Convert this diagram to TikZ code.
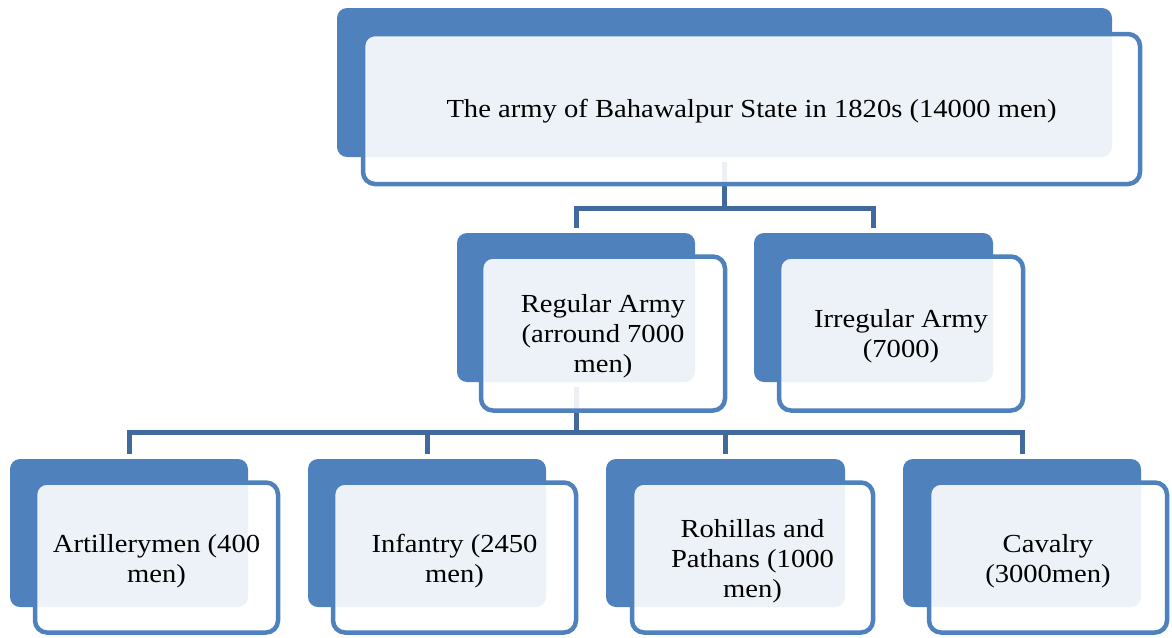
\documentclass[tikz,border=0pt]{standalone}
\usepackage{fontspec}
\setmainfont{Liberation Serif}[FakeStretch=1.1]
\pgfdeclarelayer{wires}
\pgfsetlayers{wires,main}
\definecolor{accent}{HTML}{4F81BD}
\definecolor{wire}{HTML}{41699C}
\tikzset{
  backbox/.style={fill=accent, draw=none, rounded corners=10pt, inner sep=0pt},
  frontbox/.style={draw=accent, line width=4.5pt, fill=white, fill opacity=0.9,
    rounded corners=12pt, inner sep=0pt},
  labeltext/.style={align=center, inner sep=0pt, font=\fontsize{26}{30}\selectfont},
  wirestyle/.style={draw=wire, line width=5pt, shorten <=5pt, shorten >=5pt}
}
\begin{document}
\begin{tikzpicture}[x=1pt,y=-1pt]
\useasboundingbox (0,0) rectangle (1172,637);
% back plates
\node[backbox, minimum width=775, minimum height=149] (b0) at (724.5,82.5) {};
\node[backbox, minimum width=238, minimum height=149] (b1) at (576,307.5) {};
\node[backbox, minimum width=239, minimum height=149] (b2) at (873.5,307.5) {};
\node[backbox, minimum width=238, minimum height=148] (c1) at (129,533) {};
\node[backbox, minimum width=238, minimum height=148] (c2) at (427,533) {};
\node[backbox, minimum width=239, minimum height=148] (c3) at (725.5,533) {};
\node[backbox, minimum width=238, minimum height=148] (c4) at (1022,533) {};
% front panels
\node[frontbox, minimum width=777, minimum height=150] (t0) at (751.5,109) {};
\node[frontbox, minimum width=244, minimum height=154] (t1) at (603,333.5) {};
\node[frontbox, minimum width=244, minimum height=154] (t2) at (901,333.5) {};
\node[frontbox, minimum width=243, minimum height=150] (u1) at (156.5,557.5) {};
\node[frontbox, minimum width=243, minimum height=150] (u2) at (454.5,557.5) {};
\node[frontbox, minimum width=241, minimum height=150] (u3) at (752.5,557.5) {};
\node[frontbox, minimum width=238, minimum height=150] (u4) at (1048,557.5) {};
% labels
\node[labeltext] (l0) at ([yshift=-2pt]t0.center) {The army of Bahawalpur State in 1820s (14000 men)};
\node[labeltext] (l1) at ([yshift=-3pt]t1.center) {Regular Army\\(arround 7000\\men)};
\node[labeltext] (l2) at ([yshift=-3pt]t2.center) {Irregular Army\\(7000)};
\node[labeltext] (m1) at ([yshift=-4pt]u1.center) {Artillerymen (400\\men)};
\node[labeltext] (m2) at ([yshift=-4pt]u2.center) {Infantry (2450\\men)};
\node[labeltext] (m3) at ([yshift=-4pt]u3.center) {Rohillas and\\Pathans (1000\\men)};
\node[labeltext] (m4) at ([yshift=-4pt]u4.center) {Cavalry\\(3000men)};
% connectors behind the panels
\coordinate (j0) at (724.5,208);
\coordinate (j1) at (576,432);
\begin{pgfonlayer}{wires}
\draw[wirestyle, shorten >=0pt] (b0.south) -- (j0);
\draw[wirestyle] (b1.north) |- (j0) -| (b2.north);
\draw[wirestyle, shorten >=0pt] (b1.south) -- (j1);
\draw[wirestyle] (c1.north) |- (j1) -| (c4.north);
\draw[wirestyle, shorten <=0pt] (j1) -| (c2.north);
\draw[wirestyle, shorten <=0pt] (j1) -| (c3.north);
\end{pgfonlayer}
\end{tikzpicture}
\end{document}
